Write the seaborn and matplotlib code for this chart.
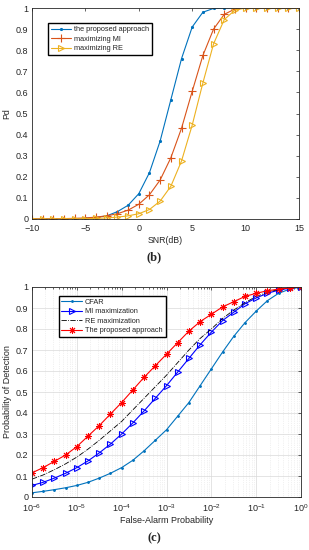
import numpy as np
import matplotlib
matplotlib.use('Agg')
import matplotlib.pyplot as plt
import seaborn as sns

# panel (b): Pd versus SNR
snr_db = list(range(-10, 16))
pd_proposed = [0, 0, 0, 0, 0.001, 0.003, 0.007, 0.015, 0.035, 0.065, 0.12, 0.22, 0.37,
               0.565, 0.76, 0.91, 0.98, 0.998, 1, 1, 1, 1, 1, 1, 1, 1]
pd_max_mi = [0.001, 0.001, 0.001, 0.002, 0.003, 0.005, 0.009, 0.015, 0.025, 0.042, 0.07,
             0.115, 0.185, 0.29, 0.43, 0.605, 0.775, 0.9, 0.97, 0.995, 1, 1, 1, 1, 1, 1]
pd_max_re = [0, 0, 0, 0.001, 0.001, 0.002, 0.003, 0.005, 0.009, 0.015, 0.025, 0.045,
             0.085, 0.155, 0.275, 0.445, 0.645, 0.83, 0.945, 0.99, 1, 1, 1, 1, 1, 1]

# panel (c): ROC curves, false alarm read every quarter decade
log_pfa = [-6, -5.75, -5.5, -5.25, -5, -4.75, -4.5, -4.25, -4, -3.75, -3.5, -3.25, -3,
           -2.75, -2.5, -2.25, -2, -1.75, -1.5, -1.25, -1, -0.75, -0.5, -0.25, 0]
roc_cfar = [0.02, 0.027, 0.035, 0.044, 0.055, 0.07, 0.09, 0.113, 0.14, 0.175, 0.22, 0.27,
            0.32, 0.385, 0.45, 0.53, 0.61, 0.69, 0.765, 0.83, 0.885, 0.935, 0.97, 0.99, 1.0]
roc_mi = [0.055, 0.07, 0.09, 0.113, 0.14, 0.172, 0.21, 0.252, 0.30, 0.353, 0.41, 0.47, 0.53,
          0.595, 0.66, 0.725, 0.785, 0.84, 0.88, 0.92, 0.948, 0.97, 0.985, 0.995, 1.0]
roc_re = [0.085, 0.105, 0.13, 0.158, 0.19, 0.228, 0.27, 0.315, 0.36, 0.415, 0.47, 0.525, 0.58,
          0.64, 0.70, 0.755, 0.80, 0.85, 0.89, 0.925, 0.955, 0.975, 0.988, 0.996, 1.0]
roc_proposed = [0.115, 0.14, 0.17, 0.20, 0.24, 0.29, 0.34, 0.395, 0.45, 0.51, 0.57, 0.625, 0.68,
                0.735, 0.79, 0.835, 0.87, 0.905, 0.93, 0.955, 0.97, 0.982, 0.99, 0.996, 1.0]
pfa = [10 ** v for v in log_pfa]

ytick_labels = ['0', '0.1', '0.2', '0.3', '0.4', '0.5', '0.6', '0.7', '0.8', '0.9', '1']

sns.set_style('white')
plt.rcParams['font.family'] = ['Liberation Sans', 'DejaVu Sans']
plt.rcParams['font.size'] = 6.5

fig = plt.figure(figsize=(3.09, 5.5), dpi=100)
ax_b = fig.add_axes([32 / 309, 331 / 550, 267 / 309, 211 / 550])
ax_c = fig.add_axes([32 / 309, 53 / 550, 269 / 309, 210 / 550])

legend_kw = dict(loc='upper left', fontsize=5.3, frameon=True, fancybox=False,
                 edgecolor='black', framealpha=1, handlelength=2.8, borderpad=0.4,
                 labelspacing=0.3, handletextpad=0.4)

## (b)
sns.lineplot(x=snr_db, y=pd_proposed, ax=ax_b, color='#0072BD', marker='.', markersize=3,
             markeredgecolor='#0072BD', linewidth=0.8, label='the proposed approach')
sns.lineplot(x=snr_db, y=pd_max_mi, ax=ax_b, color='#D95319', marker='+', markersize=6,
             markeredgecolor='#D95319', markeredgewidth=0.8, linewidth=0.8,
             label='maximizing MI')
sns.lineplot(x=snr_db, y=pd_max_re, ax=ax_b, color='#EDB120', marker='>', markersize=5,
             markerfacecolor='none', markeredgecolor='#EDB120', markeredgewidth=0.8,
             linewidth=0.8, label='maximizing RE')
ax_b.set_xlim(-10, 15)
ax_b.set_ylim(0, 1)
ax_b.set_xticks([-10, -5, 0, 5, 10, 15])
ax_b.set_yticks(np.arange(0, 1.01, 0.1))
ax_b.set_yticklabels(ytick_labels)
ax_b.set_xlabel('SNR(dB)', fontsize=6.3, labelpad=2)
ax_b.set_ylabel('Pd', fontsize=6.3, labelpad=3)
ax_b.legend(bbox_to_anchor=(0.045, 0.945), **legend_kw)

## (c)
sns.lineplot(x=pfa, y=roc_cfar, ax=ax_c, color='#0072BD', marker='.', markersize=2.5,
             markeredgecolor='#0072BD', linewidth=0.8, label='CFAR')
sns.lineplot(x=pfa, y=roc_mi, ax=ax_c, color='blue', marker='>', markersize=5,
             markerfacecolor='none', markeredgecolor='blue', markeredgewidth=0.8,
             linewidth=0.8, label='MI maximization')
sns.lineplot(x=pfa, y=roc_re, ax=ax_c, color='black', linestyle='-.', linewidth=0.6,
             label='RE maximization')
# matlab style asterisk
sns.lineplot(x=pfa, y=roc_proposed, ax=ax_c, color='red', marker=(8, 2, 0), markersize=5,
             markeredgecolor='red', markeredgewidth=0.7, linewidth=0.8,
             label='The proposed approach')
ax_c.set_xscale('log')
ax_c.set_xlim(1e-6, 1)
ax_c.set_ylim(0, 1)
ax_c.set_xticks([1e-6, 1e-5, 1e-4, 1e-3, 1e-2, 1e-1, 1])
ax_c.set_yticks(np.arange(0, 1.01, 0.1))
ax_c.set_yticklabels(ytick_labels)
ax_c.grid(True, which='major', color='#d9d9d9', linewidth=0.5)
ax_c.grid(True, which='minor', axis='x', color='#e3e3e3', linestyle=':', linewidth=0.5)
ax_c.set_axisbelow(True)
ax_c.set_xlabel('False-Alarm Probability', fontsize=6.5, labelpad=2)
ax_c.set_ylabel('Probability of Detection', fontsize=6.5, labelpad=3)
ax_c.legend(bbox_to_anchor=(0.085, 0.975), **legend_kw)

for ax in (ax_b, ax_c):
    for s in ax.spines.values():
        s.set_color('#262626')
        s.set_linewidth(0.6)
    ax.tick_params(which='both', direction='in', top=True, right=True, length=2.5,
                   width=0.5, labelsize=6.5, colors='#262626')
    ax.tick_params(axis='x', pad=3.5)
    ax.tick_params(axis='y', pad=2.5)
    ax.tick_params(which='minor', length=1.3)

fig.text(0.5, 1 - 257 / 550, '(b)', ha='center', va='center', fontsize=9,
         fontweight='bold', family=['Liberation Serif', 'DejaVu Serif'])
fig.text(0.5, 1 - 538 / 550, '(c)', ha='center', va='center', fontsize=9,
         fontweight='bold', family=['Liberation Serif', 'DejaVu Serif'])

fig.savefig('out.png', dpi=100, facecolor='white')
plt.close(fig)
